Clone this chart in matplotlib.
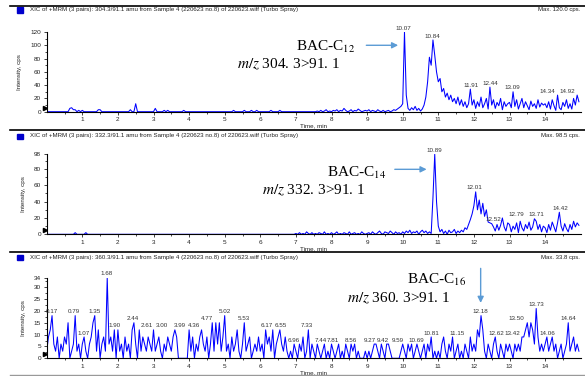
import numpy as np
import matplotlib
matplotlib.use("Agg")
from matplotlib import pyplot as plt
from matplotlib.lines import Line2D

plt.rcParams['font.family'] = ['Liberation Sans', 'DejaVu Sans']
plt.rcParams['mathtext.fontset'] = 'stix'

W, H = 585, 376
step = 0.05  # min between points

# 304.3/91.1 trace, one row per minute (20 points each)
trace1 = [
    0, 0, 0, 0, 0, 0, 0, 0, 0, 0, 0, 0, 0, 5, 6, 3, 3, 0, 2, 0,
    2, 0, 0, 0, 0, 0, 0, 0, 0, 3, 3, 0, 0, 0, 0, 0, 0, 0, 0, 0,
    0, 0, 0, 0, 0, 0, 0, 3, 0, 0, 12, 0, 0, 0, 0, 0, 0, 0, 0, 0,
    0, 5, 0, 0, 0, 0, 2, 0, 2, 0, 0, 0, 0, 0, 0, 0, 0, 2, 0, 0,
    0, 0, 0, 0, 0, 0, 0, 0, 0, 0, 0, 0, 0, 0, 0, 0, 0, 0, 0, 0,
    0, 0, 0, 0, 0, 2, 0, 0, 0, 0, 0, 2, 0, 0, 0, 2, 0, 0, 2, 0,
    0, 0, 0, 0, 0, 0, 2, 0, 0, 0, 0, 2, 0, 0, 0, 0, 0, 0, 0, 0,
    0, 0, 0, 0, 0, 0, 0, 0, 0, 0, 0, 0, 1, 0, 2, 0, 1, 3, 0, 1,
    0, 2, 1, 3, 0, 2, 1, 5, 2, 0, 1, 3, 0, 2, 1, 4, 2, 0, 1, 2,
    1, 3, 0, 2, 1, 0, 3, 1, 0, 2, 0, 1, 2, 0, 1, 3, 2, 4, 6, 8,
    12, 120, 25, 5, 2, 6, 3, 8, 2, 5, 1, 4, 10, 22, 45, 82, 70, 108, 85, 60,
    45, 50, 30, 35, 22, 28, 18, 25, 15, 20, 12, 22, 10, 18, 8, 15, 6, 12, 34, 10,
    18, 5, 15, 8, 22, 6, 12, 20, 4, 37, 10, 18, 5, 14, 9, 20, 3, 15, 8, 12,
    14, 6, 30, 8, 18, 4, 12, 20, 6, 15, 9, 3, 16, 8, 12, 5, 18, 7, 13, 10,
    12, 6, 15, 4, 18, 9, 2, 25, 6, 3, 14, 8, 18, 5, 12, 4, 20, 10, 25, 15,
]

# 332.3/91.1 trace
trace2 = [
    0, 0, 0, 0, 0, 0, 0, 0, 0, 0, 0, 0, 0, 0, 0, 0, 2, 0, 0, 0,
    0, 0, 2, 0, 0, 0, 0, 0, 0, 0, 0, 0, 0, 0, 0, 0, 0, 0, 0, 0,
    0, 0, 0, 0, 0, 0, 0, 0, 0, 0, 0, 0, 0, 0, 0, 0, 0, 0, 0, 0,
    0, 0, 0, 0, 0, 0, 0, 0, 0, 0, 0, 0, 0, 0, 0, 0, 0, 0, 0, 0,
    0, 0, 0, 0, 0, 0, 0, 0, 0, 0, 0, 0, 0, 0, 0, 0, 0, 0, 0, 0,
    0, 0, 0, 0, 0, 0, 0, 0, 0, 0, 0, 0, 0, 0, 0, 0, 0, 0, 0, 0,
    0, 0, 0, 0, 0, 0, 0, 0, 0, 0, 0, 0, 0, 0, 0, 0, 0, 0, 0, 0,
    1, 0, 2, 0, 1, 0, 3, 1, 0, 2, 0, 1, 0, 2, 1, 0, 3, 0, 1, 0,
    2, 0, 1, 3, 0, 1, 0, 2, 1, 0, 3, 0, 1, 2, 0, 1, 0, 3, 1, 0,
    1, 2, 0, 3, 1, 0, 2, 4, 1, 0, 3, 2, 1, 4, 2, 0, 3, 1, 2, 0,
    3, 1, 4, 2, 5, 1, 3, 2, 4, 0, 3, 5, 2, 4, 1, 3, 1, 45, 98, 40,
    10, 3, 6, 1, 4, 0, 5, 2, 3, 6, 1, 4, 2, 5, 3, 8, 6, 12, 18, 25,
    35, 52, 30, 42, 25, 38, 22, 30, 15, 14, 13, 9, 4, 12, 5, 11, 20, 9, 4, 14,
    12, 3, 10, 6, 14, 2, 16, 8, 4, 12, 7, 15, 5, 9, 19, 16, 6, 12, 3, 10,
    8, 2, 12, 5, 15, 9, 3, 14, 27, 10, 4, 13, 7, 3, 12, 6, 16, 9, 14, 11,
]

# 360.3/91.1 trace
trace3 = [
    3, 9, 12, 18, 6, 3, 9, 0, 6, 3, 9, 6, 15, 0, 3, 6, 18, 3, 6, 0,
    6, 9, 3, 0, 6, 9, 15, 18, 3, 12, 0, 6, 9, 3, 34, 6, 9, 3, 12, 0,
    12, 3, 6, 0, 9, 3, 6, 0, 12, 15, 6, 0, 12, 3, 9, 6, 3, 9, 6, 3,
    12, 3, 6, 9, 3, 0, 6, 3, 9, 6, 3, 9, 12, 9, 0, 0, 0, 0, 0, 0,
    12, 3, 9, 0, 6, 3, 9, 12, 6, 3, 9, 0, 6, 15, 3, 15, 6, 15, 3, 9,
    18, 3, 6, 0, 9, 3, 6, 12, 3, 0, 6, 15, 3, 6, 9, 0, 3, 6, 3, 9,
    3, 6, 0, 12, 6, 9, 3, 12, 0, 6, 9, 12, 6, 3, 9, 3, 0, 3, 0, 6,
    3, 0, 6, 3, 9, 0, 3, 12, 0, 6, 3, 0, 6, 3, 0, 3, 6, 0, 3, 0,
    6, 3, 0, 3, 6, 0, 3, 0, 6, 3, 0, 6, 3, 6, 0, 3, 0, 0, 0, 3,
    0, 3, 0, 3, 6, 6, 3, 0, 6, 3, 0, 6, 6, 3, 0, 0, 0, 0, 0, 3,
    6, 3, 0, 6, 3, 6, 0, 3, 6, 3, 0, 3, 6, 0, 6, 3, 9, 0, 3, 0,
    3, 0, 6, 9, 3, 0, 6, 3, 9, 0, 3, 6, 0, 3, 0, 6, 3, 0, 9, 3,
    6, 3, 12, 9, 18, 12, 3, 0, 6, 3, 0, 6, 9, 3, 0, 6, 3, 0, 6, 3,
    6, 3, 0, 6, 3, 6, 3, 9, 9, 12, 15, 9, 15, 12, 6, 21, 9, 3, 6, 3,
    6, 9, 3, 6, 9, 3, 6, 0, 3, 6, 0, 3, 6, 15, 3, 6, 9, 3, 6, 3,
]

# labelled apexes: (retention time, height)
peaks1 = [(10.07, 120), (10.84, 108), (11.91, 34), (12.44, 37), (13.09, 30),
          (14.34, 25), (14.92, 25)]
peaks2 = [(10.89, 98), (12.01, 52), (12.52, 13), (12.79, 20), (13.71, 19),
          (14.42, 27)]
peaks3 = [(0.17, 18), (0.79, 18), (1.07, 9), (1.35, 18), (1.68, 34), (1.90, 12),
          (2.44, 15), (2.61, 12), (3.00, 12), (3.99, 12), (4.36, 12), (4.77, 15),
          (5.02, 18), (5.53, 15), (6.17, 12), (6.55, 12), (6.96, 6), (7.33, 12),
          (7.44, 6), (7.81, 6), (8.56, 6), (9.27, 6), (9.42, 6), (9.59, 6),
          (10.69, 6), (10.81, 9), (11.15, 9), (12.18, 18), (12.62, 9), (13.42, 9),
          (13.50, 15), (13.73, 21), (14.06, 9), (14.64, 15)]

# where each peak label sits along the time axis (labels moved off crowded apexes)
label_x1 = [10.02, 10.84, 11.92, 12.45, 13.09, 14.07, 14.61]
label_x2 = [10.89, 12.01, 12.55, 13.20, 13.74, 14.44]
label_x3 = [0.14, 0.77, 1.05, 1.34, 1.67, 1.90, 2.43, 2.81, 3.23, 3.74, 4.14, 4.51,
            5.01, 5.55, 6.18, 6.58, 6.93, 7.32, 7.70, 8.05, 8.55, 9.08, 9.44, 9.85,
            10.39, 10.81, 11.52, 12.17, 12.62, 13.09, 13.20, 13.74, 14.06, 14.65]

titles = ["XIC of +MRM (3 pairs): 304.3/91.1 amu from Sample 4 (220623 no.8) of 220623.wiff (Turbo Spray)",
          "XIC of +MRM (3 pairs): 332.3/91.1 amu from Sample 4 (220623 no.8) of 220623.wiff (Turbo Spray)",
          "XIC of +MRM (3 pairs): 360.3/91.1 amu from Sample 4 (220623 no.8) of 220623.wiff (Turbo Spray)"]
max_labels = ["Max. 120.0 cps.", "Max. 98.5 cps.", "Max. 33.8 cps."]
compounds = [r"BAC-C$_{12}$", r"BAC-C$_{14}$", r"BAC-C$_{16}$"]
transitions = [r"$m/z$ 304. 3>91. 1", r"$m/z$ 332. 3>91. 1", r"$m/z$ 360. 3>91. 1"]
yticks = [[0, 20, 40, 60, 80, 100, 120], [0, 20, 40, 60, 80, 98], [0, 5, 10, 15, 20, 25, 30, 34]]
yminor = [10, 10, 2.5]

traces = [trace1, trace2, trace3]
peaks = [peaks1, peaks2, peaks3]
label_x = [label_x1, label_x2, label_x3]

fig = plt.figure(figsize=(W / 100, H / 100), dpi=100)

# pixel boxes: (top line y, title y, axes top y, axes bottom y)
boxes = [(6, 10, 32, 111.7), (130, 136, 154.3, 234.3), (252, 257, 277.7, 358.3)]
x0, x1 = 46.7, 580.7
blue = '#0000ff'
arrow_c = '#5b9bd5'

for i in range(3):
    line_y, title_y, top, bot = boxes[i]
    fig.add_artist(Line2D([10 / W, 1], [1 - line_y / H] * 2, color='black', lw=1.2))
    fig.add_artist(plt.Rectangle((17 / W, 1 - (title_y + 2.5) / H), 6 / W, 5 / H,
                                 color='#0000cc', transform=fig.transFigure))
    fig.text(30 / W, 1 - title_y / H, titles[i], fontsize=4.45, va='center', color='#222222')
    fig.text(580 / W, 1 - title_y / H, max_labels[i], fontsize=4.3, va='center', ha='right',
             color='#222222')

    ax = fig.add_axes([x0 / W, 1 - bot / H, (x1 - x0) / W, (bot - top) / H])
    y = np.array(traces[i], dtype=float)
    t = np.arange(len(y)) * step
    ax.plot(t, y, color=blue, lw=0.75)
    ax.set_xlim(0, 15)
    ax.set_ylim(0, yticks[i][-1])
    for s in ['top', 'right']:
        ax.spines[s].set_visible(False)
    for s in ['left', 'bottom']:
        ax.spines[s].set_linewidth(0.8)
    ax.set_xticks(range(1, 15))
    ax.set_xticks(np.arange(0.5, 15, 0.5), minor=True)
    ax.set_yticks(yticks[i])
    ax.set_yticks(np.arange(0, yticks[i][-1], yminor[i]), minor=True)
    ax.tick_params(labelsize=4.6, length=2.5, width=0.6, pad=1.5, colors='#222222')
    ax.tick_params(which='minor', length=1.3, width=0.5)
    ax.set_ylabel("Intensity, cps", fontsize=4.5, labelpad=6, color='#222222')
    ax.set_xlabel("Time, min", fontsize=4.5, labelpad=1, color='#222222')
    ax.plot([-0.06], [yticks[i][-1] * 0.05], marker='>', color='black', ms=3, clip_on=False)

    for (rt, h), lx in zip(peaks[i], label_x[i]):
        ax.annotate(f"{rt:.2f}", (lx, h), xytext=(0, 1), textcoords='offset points',
                    ha='center', va='bottom', fontsize=4.5, color='#333333',
                    annotation_clip=False)

    if i == 0:
        ax.text(7.0, 97, compounds[i], fontsize=11, family='Liberation Serif', va='center')
        ax.text(5.35, 72, transitions[i], fontsize=11, family='Liberation Serif', va='center')
        ax.annotate('', xy=(9.95, 100), xytext=(8.9, 100),
                    arrowprops=dict(arrowstyle='-|>', color=arrow_c, lw=1, mutation_scale=9))
    elif i == 1:
        ax.text(7.87, 74.7, compounds[i], fontsize=11, family='Liberation Serif', va='center')
        ax.text(6.05, 54.3, transitions[i], fontsize=11, family='Liberation Serif', va='center')
        ax.annotate('', xy=(10.75, 79.6), xytext=(9.7, 79.6),
                    arrowprops=dict(arrowstyle='-|>', color=arrow_c, lw=1, mutation_scale=9))
    else:
        ax.text(10.11, 33.0, compounds[i], fontsize=11, family='Liberation Serif', va='center')
        ax.text(8.43, 25.3, transitions[i], fontsize=11, family='Liberation Serif', va='center')
        ax.annotate('', xy=(12.19, 22.2), xytext=(12.19, 39.1), annotation_clip=False,
                    arrowprops=dict(arrowstyle='-|>', color=arrow_c, lw=1, mutation_scale=9))

fig.add_artist(Line2D([10 / W, 1], [1 - 375 / H] * 2, color='#999999', lw=1))
fig.savefig("out.png", dpi=100)
